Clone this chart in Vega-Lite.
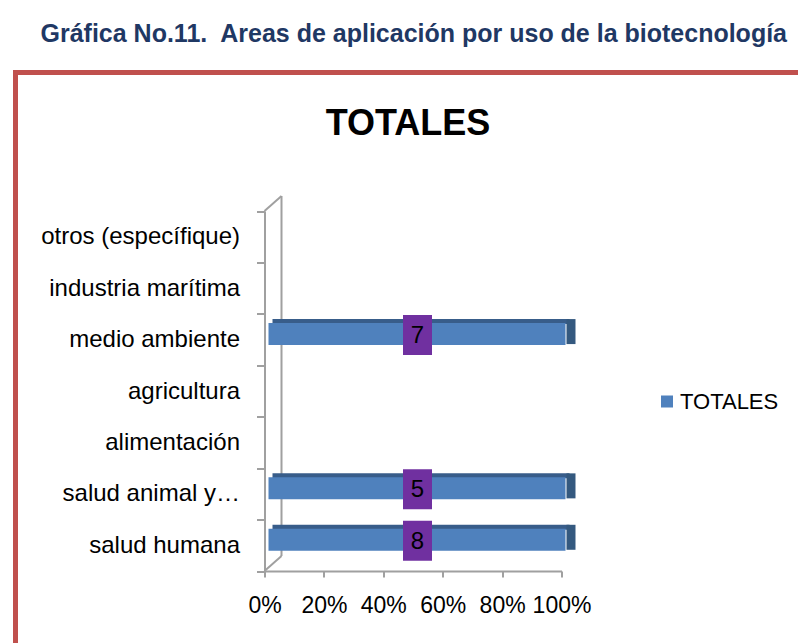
{
  "$schema": "https://vega.github.io/schema/vega-lite/v6.json",
  "autosize": {"type": "none"},
  "padding": {"left": 15.5, "top": 72.5, "right": 0, "bottom": 0},
  "width": 786,
  "height": 575,
  "background": "white",
  "config": {"view": {"stroke": "#C0504D", "strokeWidth": 5}, "font": "Liberation Sans"},
  "data": {"values": [
    {"area": "otros (específique)", "total": 0},
    {"area": "industria marítima", "total": 0},
    {"area": "medio ambiente", "total": 7},
    {"area": "agricultura", "total": 0},
    {"area": "alimentación", "total": 0},
    {"area": "salud animal y…", "total": 5},
    {"area": "salud humana", "total": 8}
  ]},
  "encoding": {
    "y": {
      "field": "area", "type": "nominal", "sort": null,
      "scale": {"domain": ["otros (específique)", "industria marítima", "medio ambiente", "agricultura", "alimentación", "salud animal y…", "salud humana"], "range": [138.5, 498.5], "paddingInner": 0, "paddingOuter": 0},
      "axis": {
        "orient": "left", "offset": -249,
        "title": "Gráfica No.11.\u00a0 Areas de aplicación por uso de la biotecnología",
        "titleX": -224.5, "titleY": -31, "titleAngle": 0, "titleAlign": "left", "titleBaseline": "alphabetic",
        "titleFont": "Liberation Sans", "titleFontSize": 25, "titleFontWeight": "bold", "titleColor": "#1F3864",
        "labelFont": "Liberation Sans", "labelFontSize": 24, "labelColor": "#000000", "labelPadding": 17, "labelLimit": 400,
        "tickBand": "extent", "tickSize": 8, "tickColor": "#A0A0A0", "tickWidth": 2,
        "domainColor": "#A0A0A0", "domainWidth": 2, "grid": false
      }
    }
  },
  "layer": [
    {
      "transform": [{"filter": "datum.area === 'salud humana'"}],
      "mark": {"type": "rule", "color": "#A0A0A0", "strokeWidth": 2, "xOffset": 17, "yOffset": -40.7, "y2Offset": 10.7},
      "encoding": {
        "x": {"datum": 0, "type": "quantitative"},
        "y": {"datum": "otros (específique)", "type": "nominal"},
        "y2": {"datum": "salud humana"}
      }
    },
    {
      "transform": [{"filter": "datum.area === 'salud humana'"}],
      "mark": {"type": "rule", "color": "#A0A0A0", "strokeWidth": 2, "x2Offset": 17, "yOffset": -25.7, "y2Offset": -40.7},
      "encoding": {
        "x": {"datum": 0, "type": "quantitative"},
        "x2": {"datum": 0},
        "y": {"datum": "otros (específique)", "type": "nominal"},
        "y2": {"datum": "otros (específique)"}
      }
    },
    {
      "transform": [{"filter": "datum.area === 'salud humana'"}],
      "mark": {"type": "rule", "color": "#A0A0A0", "strokeWidth": 2, "x2Offset": 17, "yOffset": 25.7, "y2Offset": 10.7},
      "encoding": {
        "x": {"datum": 0, "type": "quantitative"},
        "x2": {"datum": 0},
        "y": {"datum": "salud humana", "type": "nominal"},
        "y2": {"datum": "salud humana"}
      }
    },
    {
      "transform": [{"filter": "datum.total > 0"}],
      "mark": {"type": "bar", "height": 5, "yOffset": -18, "xOffset": 8, "x2Offset": 14, "color": "#385D8A"},
      "encoding": {
        "x": {"field": "total", "type": "quantitative", "stack": "normalize",
          "scale": {"domain": [0, 1], "range": [249, 546], "nice": false, "zero": true},
          "axis": {"orient": "bottom", "offset": -76.5, "format": ".0%", "values": [0, 0.2, 0.4, 0.6, 0.8, 1],
            "title": "TOTALES", "titleX": 392, "titleY": -437, "titleAlign": "center", "titleBaseline": "alphabetic", "titleAngle": 0,
            "titleFont": "Liberation Sans", "titleFontSize": 36, "titleFontWeight": "bold", "titleColor": "#000000",
            "labelFont": "Liberation Sans", "labelFontSize": 23, "labelColor": "#000000", "labelPadding": 17,
            "tickSize": 6, "tickColor": "#A0A0A0", "tickWidth": 2, "domainColor": "#A0A0A0", "domainWidth": 2,
            "grid": false, "labelFlush": false, "labelOverlap": false}
        }
      }
    },
    {
      "transform": [{"filter": "datum.total > 0"}],
      "mark": {"type": "bar", "height": 25, "yOffset": -8, "xOffset": 5, "x2Offset": 14, "color": "#34597F"},
      "encoding": {
        "x": {"datum": 1, "type": "quantitative"},
        "x2": {"datum": 1}
      }
    },
    {
      "transform": [{"filter": "datum.total > 0"}],
      "mark": {"type": "bar", "height": 22, "yOffset": -5.6, "xOffset": 4, "x2Offset": 8},
      "encoding": {
        "x": {"field": "total", "type": "quantitative", "stack": "normalize"},
        "color": {"datum": "TOTALES", "type": "nominal", "scale": {"range": ["#4F81BD"]},
          "legend": {"title": null, "orient": "none", "legendX": 640.5, "legendY": 318, "symbolType": "square", "symbolSize": 144,
            "symbolStrokeWidth": 0, "labelFont": "Liberation Sans", "labelFontSize": 22, "labelColor": "#000000", "labelOffset": 2, "padding": 0}}
      }
    },
    {
      "transform": [{"filter": "datum.total > 0"}],
      "mark": {"type": "point", "shape": "M-0.725,-1L0.725,-1L0.725,1L-0.725,1Z", "size": 1600, "filled": true, "opacity": 1, "color": "#7030A0", "xOffset": 4.5, "yOffset": -4.6},
      "encoding": {
        "x": {"datum": 0.5, "type": "quantitative"}
      }
    },
    {
      "transform": [{"filter": "datum.total > 0"}],
      "mark": {"type": "text", "fontSize": 24, "font": "Liberation Sans", "color": "#000000", "align": "center", "baseline": "middle", "xOffset": 4.5, "yOffset": -3.6},
      "encoding": {
        "x": {"datum": 0.5, "type": "quantitative"},
        "text": {"field": "total", "type": "quantitative"}
      }
    }
  ]
}
